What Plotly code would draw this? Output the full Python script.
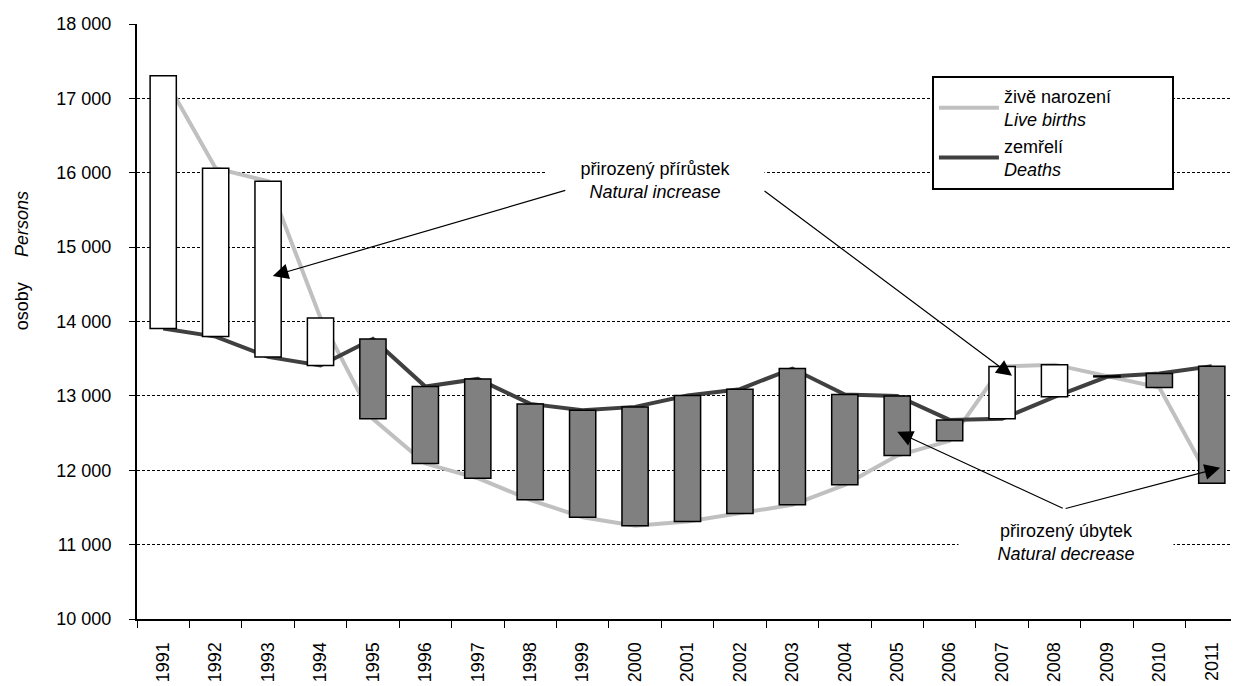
import plotly.graph_objects as go

years = [str(y) for y in range(1991, 2012)]
births = [17305, 16060, 15886, 14048, 12691, 12090, 11893, 11602, 11369, 11253,
          11311, 11418, 11535, 11804, 12198, 12395, 13394, 13420, 13268, 13112, 11826]
deaths = [13905, 13797, 13524, 13408, 13766, 13125, 13228, 12892, 12807, 12852,
          13004, 13090, 13367, 13018, 13000, 12677, 12691, 12987, 13256, 13300, 13399]

FONT = "Liberation Sans, Arial, sans-serif"
PAD = "&nbsp;" * 11

# floating bars between births and deaths
inc_x, inc_base, inc_h = [], [], []
dec_x, dec_base, dec_h = [], [], []
for yr, b, d in zip(years, births, deaths):
    if b >= d:
        inc_x.append(yr); inc_base.append(d); inc_h.append(b - d)
    else:
        dec_x.append(yr); dec_base.append(b); dec_h.append(d - b)

fig = go.Figure()
fig.add_trace(go.Scatter(x=years, y=births, mode="lines", name="živě narození" + PAD + "<br><i>Live births</i>",
                         line=dict(color="#c0c0c0", width=4)))
fig.add_trace(go.Scatter(x=years, y=deaths, mode="lines", name="zemřelí<br><i>Deaths</i>",
                         line=dict(color="#404040", width=4)))
fig.add_trace(go.Bar(x=inc_x, y=inc_h, base=inc_base, width=0.5, yaxis="y2", showlegend=False,
                     marker=dict(color="white", line=dict(color="black", width=1.5))))
fig.add_trace(go.Bar(x=dec_x, y=dec_h, base=dec_base, width=0.5, yaxis="y2", showlegend=False,
                     marker=dict(color="#808080", line=dict(color="black", width=1.5))))

yrange = [10000, 18000]
fig.update_layout(
    width=1231, height=678,
    margin=dict(l=129, r=1, t=16, b=67, autoexpand=False),
    paper_bgcolor="white", plot_bgcolor="white",
    font=dict(family=FONT, size=18, color="black"),
    separators=". ",
    xaxis=dict(type="category", categoryorder="array", categoryarray=years, automargin=False,
               range=[-0.5, 20.5], tickangle=-90, ticks="outside", tickson="boundaries",
               ticklen=7, tickcolor="black", showline=True, linecolor="black", linewidth=2,
               showgrid=False, ticklabelstandoff=14),
    yaxis=dict(range=yrange, dtick=1000, tickformat=",d", ticks="outside", ticklen=6,
               tickcolor="black", showline=True, linecolor="black", linewidth=2, automargin=False,
               showgrid=True, gridcolor="black", gridwidth=1, griddash="3px,2px",
               zeroline=False, ticklabelstandoff=14),
    yaxis2=dict(range=yrange, overlaying="y", visible=False),
    barmode="overlay",
    legend=dict(x=0.722, y=0.913, xanchor="left", yanchor="top", bgcolor="white",
                bordercolor="black", borderwidth=2, font=dict(size=18), itemwidth=60,
                tracegroupgap=6),
)

ann = []
ann.append(dict(text="osoby&nbsp;&nbsp;&nbsp;&nbsp;&nbsp;<i>Persons</i>", textangle=-90,
                xref="paper", yref="paper", x=-0.1045, y=0.603, showarrow=False,
                xanchor="center", yanchor="middle"))
ann.append(dict(text="přirozený přírůstek<br><i>Natural increase</i>", xref="paper", yref="paper",
                x=0.4705, y=0.737, showarrow=False, bgcolor="white", width=215,
                xanchor="center", yanchor="middle"))
ann.append(dict(text="přirozený úbytek<br><i>Natural decrease</i>", xref="paper", yref="paper",
                x=0.8438, y=0.128, showarrow=False, bgcolor="white", width=212,
                xanchor="center", yanchor="middle"))
arrow = dict(text="", showarrow=True, arrowhead=2, arrowsize=2.6, arrowwidth=1.2,
             arrowcolor="black", xref="x", yref="y", standoff=0)
for x, y, ax, ay in [(2.09, 14613, 294, -86), (16.19, 13269, -249, -186),
                     (14.0, 12516, 167, 77), (20.16, 12032, -156, 41)]:
    ann.append(dict(arrow, x=x, y=y, ax=ax, ay=ay))
fig.update_layout(annotations=ann)

fig.write_html("out.html")
